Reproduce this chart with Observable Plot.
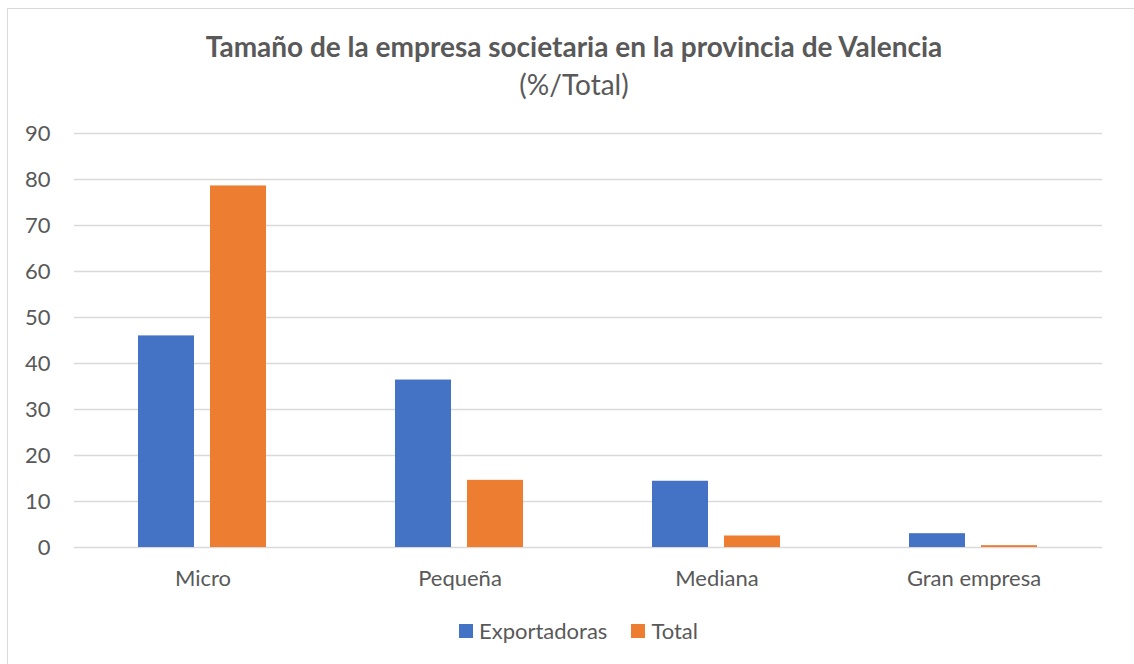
<!DOCTYPE html>
<html>
<head>
<meta charset="utf-8">
<script src="https://cdn.jsdelivr.net/npm/d3@7"></script>
<script src="https://cdn.jsdelivr.net/npm/@observablehq/plot@0.6"></script>
<style>
  html, body { margin: 0; padding: 0; background: #fff; }
  #wrap { position: relative; width: 1134px; height: 664px; overflow: hidden; font-family: Lato, "Open Sans", sans-serif; color: #595959; }
  #frame { position: absolute; left: 7px; top: 8px; width: 1140px; height: 670px; border: 1px solid #d9d9d9; box-sizing: border-box; }
  #title { position: absolute; left: 7px; width: 1134px; top: 31px; text-align: center; font-size: 28px; font-weight: bold; line-height: 30px; white-space: nowrap; }
  #subtitle { position: absolute; left: 7px; width: 1134px; top: 69px; text-align: center; font-size: 28px; line-height: 30px; }
  #chart { position: absolute; left: 0; top: 0; }
  #legend { position: absolute; top: 616px; left: 459px; display: flex; gap: 24px; font-size: 22px; line-height: 30px; white-space: nowrap; }
  #legend span.item { display: inline-flex; align-items: center; }
  #legend span.sw { display: inline-block; width: 14px; height: 14px; margin-right: 6px; }
</style>
</head>
<body>
<div id="wrap">
  <div id="frame"></div>
  <div id="chart"></div>
  <div id="title"></div>
  <div id="subtitle"></div>
  <div id="legend"></div>
</div>
<script>
const titleText = "Tamaño de la empresa societaria en la provincia de Valencia";
const subtitleText = "(%/Total)";
const categories = ["Micro", "Pequeña", "Mediana", "Gran empresa"];
const series = ["Exportadoras", "Total"];
const exportadoras = [46.0, 36.4, 14.4, 3.0];
const total = [78.6, 14.6, 2.5, 0.4];
const colors = ["#4472C4", "#ED7D31"];
const yTicks = [0, 10, 20, 30, 40, 50, 60, 70, 80, 90];

document.getElementById("title").textContent = titleText;
document.getElementById("subtitle").textContent = subtitleText;

const rows = [];
categories.forEach((c, i) => {
  rows.push({category: c, series: series[0], value: exportadoras[i]});
  rows.push({category: c, series: series[1], value: total[i]});
});

const chart = Plot.plot({
  width: 1134,
  height: 664,
  marginTop: 133,
  marginBottom: 117,
  marginLeft: 73,
  marginRight: 31,
  style: { fontFamily: "Lato, 'Open Sans', sans-serif", fontSize: "22px", color: "#595959", background: "transparent" },
  fx: { domain: categories, padding: 0, label: null, tickSize: 0, tickPadding: 23 },
  x: { domain: series, paddingInner: 0.219, paddingOuter: 0.873, axis: null },
  y: { domain: [0, 90], ticks: yTicks, tickSize: 0, tickPadding: 24, label: null },
  color: { domain: series, range: colors },
  marks: [
    Plot.ruleY(yTicks, { stroke: "#d9d9d9", strokeWidth: 1.3 }),
    Plot.barY(rows, { fx: "category", x: "series", y: "value", fill: "series" })
  ]
});
document.getElementById("chart").appendChild(chart);

const legend = document.getElementById("legend");
series.forEach((s, i) => {
  const item = document.createElement("span");
  item.className = "item";
  const sw = document.createElement("span");
  sw.className = "sw";
  sw.style.background = colors[i];
  item.appendChild(sw);
  item.appendChild(document.createTextNode(s));
  legend.appendChild(item);
});
</script>
</body>
</html>
